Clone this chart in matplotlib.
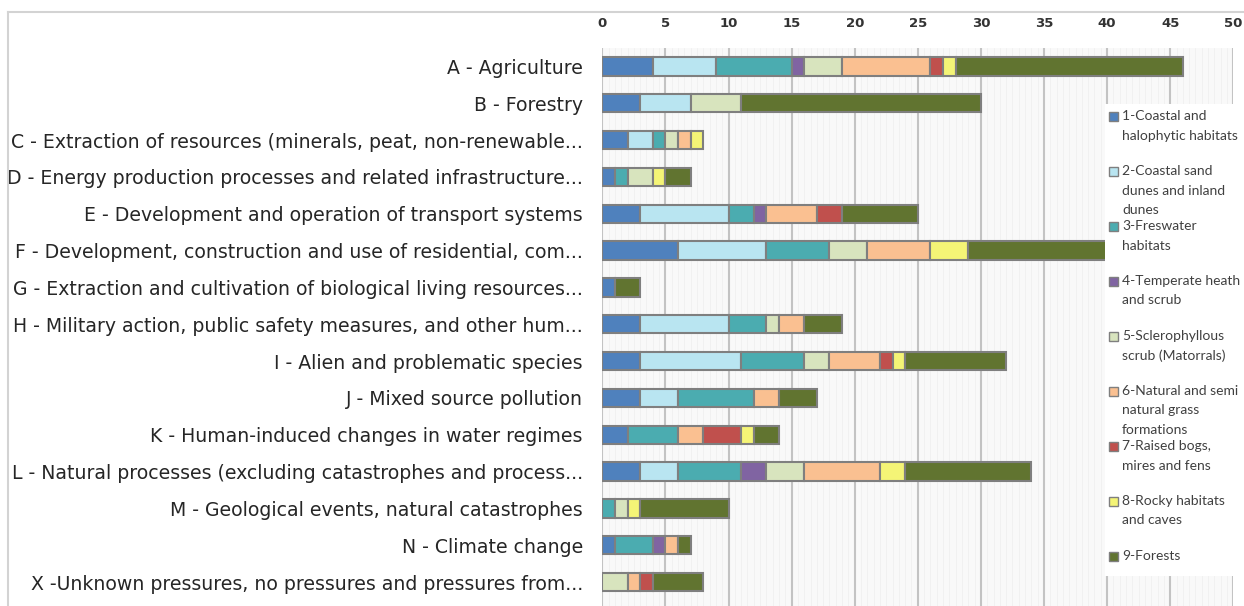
import matplotlib
matplotlib.use("Agg")
import matplotlib.pyplot as plt
import matplotlib.patches as patches
from matplotlib.lines import Line2D
import numpy as np

# pressure categories (rows, top to bottom)
categories = [
    "A - Agriculture",
    "B - Forestry",
    "C - Extraction of resources (minerals, peat, non-renewable...",
    "D - Energy production processes and related infrastructure...",
    "E - Development and operation of transport systems",
    "F - Development, construction and use of residential, com...",
    "G - Extraction and cultivation of biological living resources...",
    "H - Military action, public safety measures, and other hum...",
    "I - Alien and problematic species",
    "J - Mixed source pollution",
    "K - Human-induced changes in water regimes",
    "L - Natural processes (excluding catastrophes and process...",
    "M - Geological events, natural catastrophes",
    "N - Climate change",
    "X -Unknown pressures, no pressures and pressures from...",
]

# habitat groups, one value per category
coastal_halophytic = [4, 3, 2, 1, 3, 6, 1, 3, 3, 3, 2, 3, 0, 1, 0]
coastal_dunes      = [5, 4, 2, 0, 7, 7, 0, 7, 8, 3, 0, 3, 0, 0, 0]
freshwater         = [6, 0, 1, 1, 2, 5, 0, 3, 5, 6, 4, 5, 1, 3, 0]
heath_scrub        = [1, 0, 0, 0, 1, 0, 0, 0, 0, 0, 0, 2, 0, 1, 0]
sclerophyllous     = [3, 4, 1, 2, 0, 3, 0, 1, 2, 0, 0, 3, 1, 0, 2]
grasslands         = [7, 0, 1, 0, 4, 5, 0, 2, 4, 2, 2, 6, 0, 1, 1]
bogs_mires         = [1, 0, 0, 0, 2, 0, 0, 0, 1, 0, 3, 0, 0, 0, 1]
rocky_caves        = [1, 0, 1, 1, 0, 3, 0, 0, 1, 0, 1, 2, 1, 0, 0]
forests            = [18, 19, 0, 2, 6, 11, 2, 3, 8, 3, 2, 10, 7, 1, 4]

series = [coastal_halophytic, coastal_dunes, freshwater, heath_scrub,
          sclerophyllous, grasslands, bogs_mires, rocky_caves, forests]

legend_labels = [
    "1-Coastal and\nhalophytic habitats",
    "2-Coastal sand\ndunes and inland\ndunes",
    "3-Freswater\nhabitats",
    "4-Temperate heath\nand scrub",
    "5-Sclerophyllous\nscrub (Matorrals)",
    "6-Natural and semi\nnatural grass\nformations",
    "7-Raised bogs,\nmires and fens",
    "8-Rocky habitats\nand caves",
    "9-Forests",
]

colors = ["#4F81BD", "#B9E5F1", "#4BACB0", "#8064A2", "#D8E4BE",
          "#FAC091", "#C0504D", "#F4F476", "#617430"]

fig = plt.figure(figsize=(12.44, 6.06), dpi=100)
ax = fig.add_axes([602.3 / 1244, 0.0, (1233.3 - 602.3) / 1244, 1 - 48 / 606])
ax.set_facecolor("#f9f9f9")

y = np.arange(len(categories))
left = np.zeros(len(categories))
for vals, col in zip(series, colors):
    vals = np.array(vals, dtype=float)
    bars = ax.barh(y, vals, left=left, height=0.5, color=col,
                   edgecolor="#7f7f7f", linewidth=1.5, zorder=3)
    for b, v in zip(bars, vals):
        if v == 0:
            b.set_visible(False)
    left += vals

ax.set_xlim(0, 50)
ax.set_ylim(14.65, -0.5)
ax.set_xticks(np.arange(0, 51, 5))
ax.set_xticks(np.arange(0, 50, 0.5), minor=True)
ax.xaxis.tick_top()
ax.tick_params(axis="x", which="both", length=0, pad=13, labelsize=9.5,
               labelcolor="#333333")
for t in ax.get_xticklabels():
    t.set_fontweight("bold")
ax.set_yticks(y)
ax.set_yticklabels(categories, fontsize=13.6, color="#262626")
ax.tick_params(axis="y", length=0, pad=14)

ax.grid(axis="x", which="major", color="#c3c3c3", linewidth=1.5, zorder=1)
ax.grid(axis="x", which="minor", color="#f0f0f0", linewidth=0.6, zorder=0)
for s in ax.spines.values():
    s.set_visible(False)

# chart frame (top and left border)
fig.add_artist(Line2D([8 / 1244, 1], [1 - 12 / 606] * 2, color="#d3d3d3",
                      linewidth=1.5, transform=fig.transFigure))
fig.add_artist(Line2D([8 / 1244] * 2, [0, 1 - 12 / 606], color="#d3d3d3",
                      linewidth=1.5, transform=fig.transFigure))

# legend panel on the right
fig.add_artist(patches.Rectangle((1105 / 1244, 1 - 576 / 606), 139 / 1244,
                                 472 / 606, transform=fig.transFigure,
                                 facecolor="white", edgecolor="none", zorder=5))
for i, (lab, col) in enumerate(zip(legend_labels, colors)):
    ytop = 116 + i * 55
    fig.add_artist(patches.Rectangle((1109 / 1244, 1 - (ytop + 4.5) / 606),
                                     9 / 1244, 9 / 606,
                                     transform=fig.transFigure, facecolor=col,
                                     edgecolor="#7f7f7f", linewidth=1, zorder=6))
    for j, line in enumerate(lab.split("\n")):
        fig.text(1122 / 1244, 1 - (ytop + j * 19.5) / 606, line, fontsize=10,
                 family="Lato", color="#404040", va="center", ha="left",
                 zorder=7)

fig.savefig("out.png", dpi=100)
